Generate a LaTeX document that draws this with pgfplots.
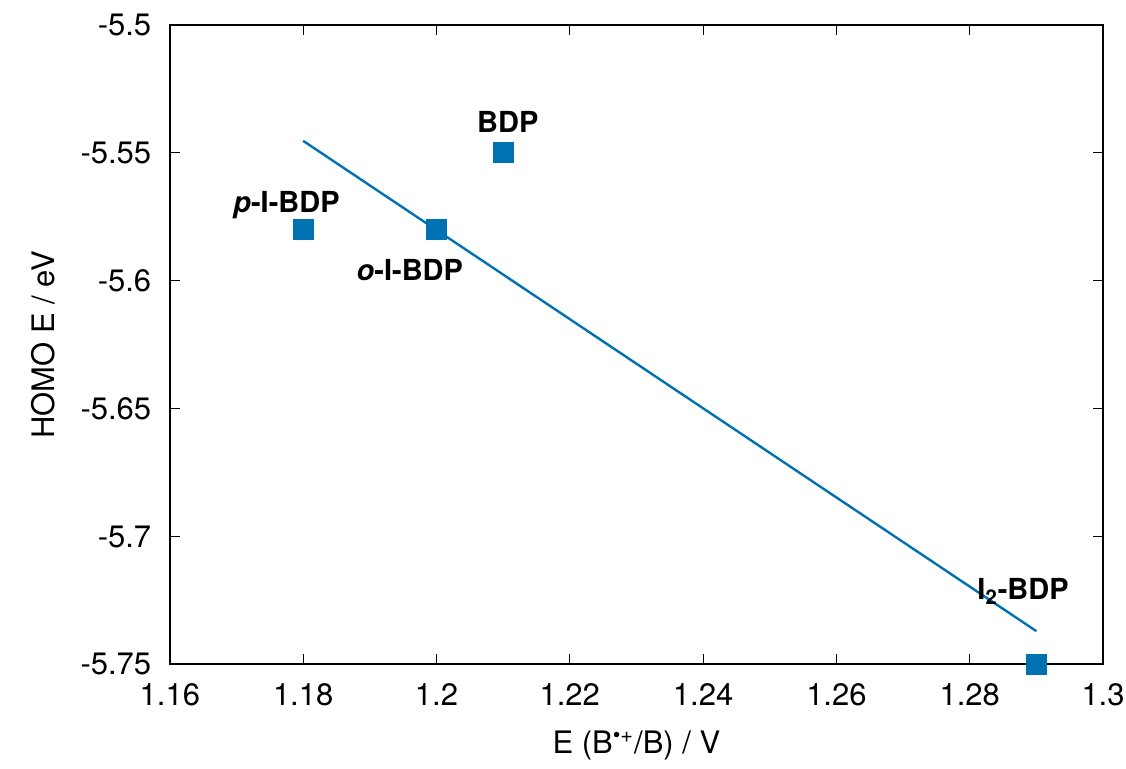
\documentclass[border=0pt]{standalone}
\usepackage{pgfplots}
\pgfplotsset{compat=1.18}
\usepackage{fontspec}
\setmainfont{TeX Gyre Heros}
\definecolor{gpblue}{RGB}{0,114,178}
\begin{document}
\fontsize{15.5}{18}\selectfont
\begin{tikzpicture}
\begin{axis}[
  scale only axis,
  width=467pt, height=320pt,
  xmin=1.16, xmax=1.3, ymin=-5.75, ymax=-5.5,
  xtick={1.16,1.18,1.2,1.22,1.24,1.26,1.28,1.3},
  xticklabels={1.16,1.18,1.2,1.22,1.24,1.26,1.28,1.3},
  ytick={-5.75,-5.7,-5.65,-5.6,-5.55,-5.5},
  yticklabels={-5.75,-5.7,-5.65,-5.6,-5.55,-5.5},
  tick align=inside,
  major tick length=5pt,
  tick style={black, line width=0.5pt},
  axis line style={line width=1pt},
  xticklabel style={font=\fontsize{15.5}{18}\selectfont, yshift=-4pt},
  yticklabel style={font=\fontsize{15.5}{18}\selectfont, xshift=-4pt},
  xlabel={E (B\textsuperscript{\textbullet+}/B) / V},
  ylabel={HOMO E / eV},
  label style={font=\fontsize{15.5}{18}\selectfont},
  xlabel style={yshift=-2pt},
  ylabel style={yshift=2pt},
  clip=false,
]
\addplot[only marks, mark=square*, mark size=5pt, color=gpblue] coordinates {
  (1.18,-5.58) (1.20,-5.58) (1.21,-5.55) (1.29,-5.75)
};
\addplot[gpblue, line width=1.2pt, no marks] coordinates {
  (1.18,-5.5453) (1.29,-5.737)
};
\node[font=\fontsize{14.5}{16}\selectfont\bfseries] at (axis cs:1.2107,-5.5379) {BDP};
\node[font=\fontsize{14.5}{16}\selectfont\bfseries] at (axis cs:1.1775,-5.5703) {\textit{p}-I-BDP};
\node[font=\fontsize{14.5}{16}\selectfont\bfseries] at (axis cs:1.196,-5.5957) {\textit{o}-I-BDP};
\node[font=\fontsize{14.5}{16}\selectfont\bfseries] at (axis cs:1.288,-5.7215) {I\textsubscript{2}-BDP};
\end{axis}
\pgfresetboundingbox
\path ([shift={(-85pt,-52pt)}]current axis.south west) rectangle ([shift={(11.5pt,12.5pt)}]current axis.north east);
\end{tikzpicture}
\end{document}
